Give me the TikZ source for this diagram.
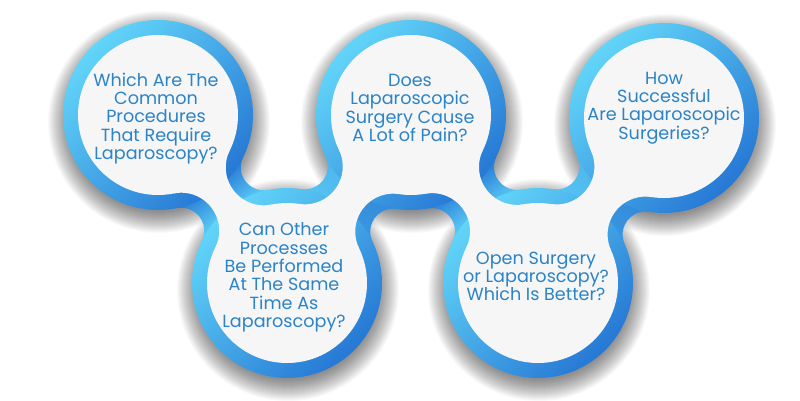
\documentclass[tikz,border=0pt]{standalone}
\usepackage{fontspec}
\setmainfont{Poppins}
\usetikzlibrary{calc}
\definecolor{ringL}{HTML}{62D5F9}
\definecolor{ringD}{HTML}{2678D4}
\definecolor{inner}{HTML}{F6F6F6}
\definecolor{txt}{HTML}{2B83C8}
\newdimen\nkAx \newdimen\nkAy \newdimen\nkBx \newdimen\nkBy
\def\Rb{95}\def\Rw{80}\def\Rf{23}
\newcommand\neckgeom[2]{%
  \pgfextractx{\nkAx}{\pgfpointanchor{#1}{center}}%
  \pgfextracty{\nkAy}{\pgfpointanchor{#1}{center}}%
  \pgfextractx{\nkBx}{\pgfpointanchor{#2}{center}}%
  \pgfextracty{\nkBy}{\pgfpointanchor{#2}{center}}%
  \pgfmathsetmacro\nkd{veclen(\nkBx-\nkAx,\nkBy-\nkAy)}%
  \pgfmathsetmacro\nkang{atan2(\nkBy-\nkAy,\nkBx-\nkAx)}%
  \pgfmathsetmacro\nkc{\nkd/2}%
  \pgfmathsetmacro\nkS{\Rb+\Rf}%
  \pgfmathsetmacro\nkh{sqrt(\nkS*\nkS-\nkc*\nkc)}%
  \pgfmathsetmacro\nkal{acos(\nkc/\nkS)}%
  \pgfmathsetmacro\tAx{\Rb*\nkc/\nkS}%
  \pgfmathsetmacro\tAy{\Rb*\nkh/\nkS}%
  \pgfmathsetmacro\tBx{\nkd-\tAx}%
  \pgfmathsetmacro\wAx{\Rw*\nkc/\nkS}%
  \pgfmathsetmacro\wAy{\Rw*\nkh/\nkS}%
  \pgfmathsetmacro\wBx{\nkd-\wAx}%
  \pgfmathsetmacro\wR{\Rf+\Rb-\Rw}%
  \pgfmathsetmacro\pUa{50+50*cos(\nkang+\nkal-135)}%
  \pgfmathsetmacro\pUb{50+50*cos(\nkang+180-\nkal-135)}%
  \pgfmathsetmacro\pLa{50+50*cos(\nkang-\nkal-135)}%
  \pgfmathsetmacro\pLb{50+50*cos(\nkang+180+\nkal-135)}%
}
\newcommand\blueneck[2]{%
  \neckgeom{#1}{#2}%
  \begin{scope}[transform canvas={shift={(#1)},rotate=\nkang}]
    \begin{scope}[even odd rule]
      \clip (-50,-300) rectangle (400,300) (\nkc,\nkh) circle[radius=\Rf];
      \shade[left color=ringL!\pUa!ringD, right color=ringL!\pUb!ringD] (\tAx,\tAy)--(\nkc,\nkh)--(\tBx,\tAy)--(\tBx,0)--(\tAx,0)--cycle;
    \end{scope}
    \begin{scope}[even odd rule]
      \clip (-50,-300) rectangle (400,300) (\nkc,-\nkh) circle[radius=\Rf];
      \shade[left color=ringL!\pLa!ringD, right color=ringL!\pLb!ringD] (\tAx,-\tAy)--(\nkc,-\nkh)--(\tBx,-\tAy)--(\tBx,0)--(\tAx,0)--cycle;
    \end{scope}
  \end{scope}}
\newcommand\whiteneck[2]{%
  \neckgeom{#1}{#2}%
  \begin{scope}[transform canvas={shift={(#1)},rotate=\nkang}]
    \begin{scope}[even odd rule]
    \clip (-50,-300) rectangle (400,300) (\nkc,\nkh) circle[radius=\wR] (\nkc,-\nkh) circle[radius=\wR];
    \fill[inner] (\wAx,\wAy)--(\nkc,\nkh)--(\wBx,\wAy)--(\wBx,-\wAy)--(\nkc,-\nkh)--(\wAx,-\wAy)--cycle;
    \end{scope}
  \end{scope}}
\newcommand\ringdisc[1]{%
  \begin{scope}[transform canvas={shift={(#1)},rotate=45}]
    \shade[top color=ringL, bottom color=ringD] (0,0) circle[radius=\Rb];
  \end{scope}}
\tikzset{
  qtext/.style={align=center, text=txt, inner sep=0pt, font=\fontsize{17.6}{18.3}\selectfont},
}
\begin{document}
\begin{tikzpicture}[x=1pt,y=1pt]
\useasboundingbox (0,0) rectangle (800,-400);
\fill[white] (0,0) rectangle (800,-400);
\coordinate (C1) at (158,-115);
\coordinate (C2) at (287,-283);
\coordinate (C3) at (411,-115);
\coordinate (C4) at (538,-283);
\coordinate (C5) at (664,-118);
% drop shadow
\foreach \k in {0,...,21}{
  \foreach \c in {C1,C2,C3,C4,C5}{
    \fill[black, fill opacity=0.022] ($(\c)+(1,-7)$) circle[radius=\Rb-5+\k];
  }
}
% blue necks
\blueneck{C1}{C2}
\blueneck{C2}{C3}
\blueneck{C3}{C4}
\blueneck{C4}{C5}
% blue rings
\ringdisc{C1}
\ringdisc{C2}
\ringdisc{C3}
\ringdisc{C4}
\ringdisc{C5}
% white necks and discs
\whiteneck{C1}{C2}
\whiteneck{C2}{C3}
\whiteneck{C3}{C4}
\whiteneck{C4}{C5}
\foreach \c in {C1,C2,C3,C4,C5}{
  \fill[inner] (\c) circle[radius=\Rw];
}
% texts
\node[qtext] (t1) at (156,-118.5) {Which Are The\\Common\\Procedures\\That Require\\Laparoscopy?};
\node[qtext] (t2) at (284,-277.5) {Can Other\\Processes\\Be Performed\\At The Same\\Time As\\Laparoscopy?};
\node[qtext] (t3) at (410,-108) {Does\\Laparoscopic\\Surgery Cause\\A Lot of Pain?};
\node[qtext] (t4) at (536,-276.5) {Open Surgery\\or Laparoscopy?\\Which Is Better?};
\node[qtext] (t5) at (664,-108) {How\\Successful\\Are Laparoscopic\\Surgeries?};
\end{tikzpicture}
\end{document}
